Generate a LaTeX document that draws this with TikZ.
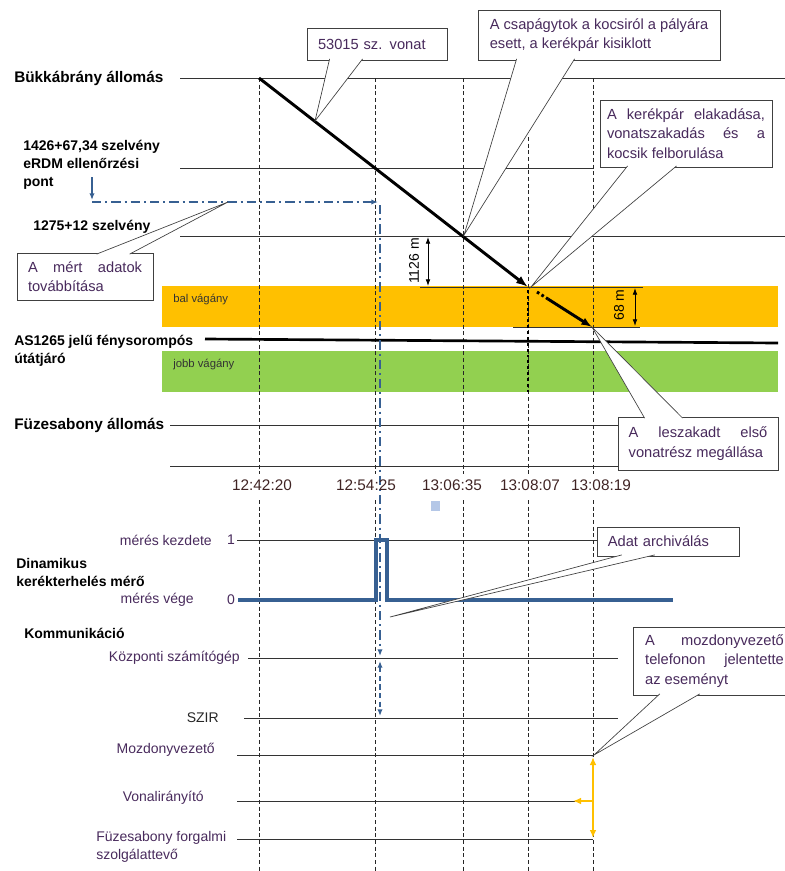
\documentclass[tikz,border=0pt]{standalone}
\usepackage{fontspec}
\setmainfont{Liberation Sans}
\usetikzlibrary{arrows.meta,calc}
\definecolor{bandorange}{RGB}{255,192,0}
\definecolor{bandgreen}{RGB}{146,208,80}
\definecolor{sigblue}{RGB}{55,96,146}
\definecolor{txtcol}{RGB}{72,42,92}
\definecolor{timecol}{RGB}{64,36,36}
\definecolor{marker}{RGB}{180,199,231}

\begin{document}
\begin{tikzpicture}[
    x=0.75pt, y=-0.75pt,
    >=Latex,
    every node/.style={inner sep=0pt, font=\fontsize{10.5}{13.5}\selectfont},
    station/.style={anchor=west, font=\bfseries\fontsize{11.5}{14}\selectfont},
    sublabel/.style={anchor=west, align=left, font=\bfseries\fontsize{10.5}{13.5}\selectfont},
    chlabel/.style={anchor=east, text=txtcol},
    timelabel/.style={text=timecol, font=\fontsize{11.5}{14}\selectfont},
    tracklabel/.style={anchor=west, text=black!80, font=\fontsize{8.5}{10}\selectfont},
    gridline/.style={black!80, line width=0.6pt},
    timemark/.style={black!85, line width=0.6pt, dash pattern=on 3pt off 2pt},
    train/.style={line width=2.2pt},
    dimline/.style={{Latex[length=5pt,width=3.5pt]}-{Latex[length=5pt,width=3.5pt]}, line width=0.6pt},
    datapath/.style={sigblue, line width=1.5pt, dash pattern=on 7pt off 3pt on 1.5pt off 3pt},
    report/.style={bandorange, line width=2pt},
    callbox/.style={draw=black!75, fill=white, line width=0.6pt, text=txtcol, font=\fontsize{11}{14.5}\selectfont},
    pointer/.style={draw=black!75, fill=white, line width=0.5pt}
  ]
  \useasboundingbox (0,0) rectangle (785,871);

  % tracks
  \fill[bandorange] (162,286) rectangle (778,327);
  \fill[bandgreen] (162,351) rectangle (778,392);

  % distance levels
  \draw[gridline] (180,78) -- (785,78);
  \draw[gridline] (180,168) -- (593,168);
  \draw[gridline] (180,236) -- (785,236);
  \draw[gridline] (420,287) -- (643,287);
  \draw[gridline] (513,327) -- (640,327);
  \draw[gridline] (170,425) -- (778,425);
  \draw[gridline] (170,466) -- (778,466);

  % signal levels
  \draw[gridline] (237,540) -- (597,540);
  \draw[gridline] (248,658) -- (618,658);
  \draw[gridline] (244,718) -- (618,718);
  \draw[gridline] (237,755) -- (593,755);
  \draw[gridline] (237,801) -- (575,801);
  \draw[gridline] (237,839) -- (593,839);

  % time marks
  \foreach \tx/\ys in {259/78, 375/78, 463/78, 528/137, 593/78} {
    \draw[timemark] (\tx,\ys) -- (\tx,474);
    \draw[timemark] (\tx,500) -- (\tx,871);
  }

  % level crossing
  \draw[line width=2pt] (205,339) -- (778,343);

  % distances
  \draw[dimline] (428,237) -- (428,286);
  \node[rotate=90] (dist1126) at (414,261) {1126 m};
  \draw[dimline] (635,288) -- (635,326);
  \node[rotate=90] (dist68) at (619,305) {68 m};

  % train path
  \coordinate (startB) at (259,78);
  \coordinate (derail) at (528,287);
  \coordinate (stopA) at (592,327);
  \draw[train, -{Latex[length=9pt,width=6.5pt]}] (startB) -- (derail);
  \draw[train, dash pattern=on 2pt off 2pt] (537,292) -- (548,299);
  \draw[train, -{Latex[length=8pt,width=6pt]}] (548,299) -- (stopA);
  \draw[line width=2.2pt, dash pattern=on 2.2pt off 2.2pt] (528,290) -- (528,392);

  % measured data
  \draw[sigblue, line width=1.2pt, -{Latex[length=5pt,width=4pt]}] (92,177) -- (92,200);
  \draw[datapath, -{Latex[length=5pt,width=4pt]}] (92,202) -- (378,202);
  \draw[datapath, -{Latex[length=5pt,width=4pt]}] (380,205) -- (380,656);
  \draw[sigblue, line width=1.5pt, dash pattern=on 4pt off 2.5pt,
        {Latex[length=5pt,width=4pt]}-{Latex[length=5pt,width=4pt]}] (380,661) -- (380,716);
  \draw[sigblue, line width=2.6pt] (238,600) -- (376,600) -- (376,540) -- (387,540) -- (387,600) -- (673,600);

  % phone report
  \draw[report, {Latex[length=6pt,width=5pt]}-{Latex[length=6pt,width=5pt]}] (593,757) -- (593,838);
  \draw[report, -{Latex[length=6pt,width=5pt]}] (593,801) -- (573,801);

  \fill[marker] (431,501) rectangle (440,511);

  % callouts
  \coordinate (tipvonat) at (315,121);
  \coordinate (tipkisiklas) at (464,235);
  \coordinate (tipelakadas) at (531,287);
  \coordinate (tipadat) at (228,202);
  \coordinate (tipmegallas) at (592,327);
  \coordinate (tiparchiv) at (390,617);
  \coordinate (tiptelefon) at (594,755);

  \node[callbox, minimum width=105pt, minimum height=24pt, text width=88.5pt, align=left] (vonat) at (377,44) {53015 sz. vonat};
  \filldraw[pointer] ($(vonat.south west)+(23,-1.5)$) -- (tipvonat) -- ($(vonat.south west)+(56,-1.5)$);

  \node[callbox, minimum width=181.5pt, minimum height=37.5pt, align=left] (kisiklas) at (599,35)
    {A csapágytok a kocsiról a pályára\\esett, a kerékpár kisiklott};
  \filldraw[pointer] ($(kisiklas.south west)+(39,-1.5)$) -- (tipkisiklas) -- ($(kisiklas.south west)+(97,-1.5)$);

  \node[callbox, minimum width=129pt, minimum height=50.25pt, text width=118.5pt, align=justify] (elakadas) at (686,133.5)
    {A kerékpár elakadása,\linebreak vonatszakadás és a\linebreak kocsik felborulása};
  \filldraw[pointer] ($(elakadas.south west)+(28,-1.5)$) -- (tipelakadas) -- ($(elakadas.south west)+(77,-1.5)$);

  \node[callbox, minimum width=102pt, minimum height=35.25pt, text width=85.5pt, align=justify] (adat) at (85,276.5)
    {A mért adatok\linebreak továbbítása};
  \filldraw[pointer] ($(adat.north west)+(80,1.5)$) -- (tipadat) -- ($(adat.north west)+(113,1.5)$);

  \node[callbox, minimum width=120pt, minimum height=39.75pt, text width=104pt, align=justify] (megallas) at (698,443.5)
    {A leszakadt első\linebreak vonatrész megállása};
  \filldraw[pointer] ($(megallas.north west)+(27,1.5)$) -- (tipmegallas) -- ($(megallas.north west)+(65,1.5)$);

  \node[callbox, minimum width=107pt, minimum height=21.75pt, text width=91pt, align=left] (archiv) at (668.5,541.5) {Adat archiválás};
  \filldraw[pointer] ($(archiv.south west)+(25,-1.5)$) -- (tiparchiv) -- ($(archiv.south west)+(58,-1.5)$);

  \node[callbox, minimum width=122pt, minimum height=51pt, text width=104pt, align=justify] (telefon) at (714.5,661)
    {A mozdonyvezető\linebreak telefonon jelentette\linebreak az eseményt};
  \filldraw[pointer] ($(telefon.south west)+(27,-1.5)$) -- (tiptelefon) -- ($(telefon.south west)+(67,-1.5)$);

  % left labels
  \node[station] (bukk) at (14,78) {Bükkábrány állomás};
  \node[sublabel] (erdm) at (23,165) {1426+67,34 szelvény\\eRDM ellenőrzési\\pont};
  \node[sublabel] (szelv) at (33,227) {1275+12 szelvény};
  \node[sublabel] (as1265) at (14,351) {AS1265 jelű fénysorompós\\útátjáró};
  \node[station] (fuzes) at (14,425) {Füzesabony állomás};
  \node[sublabel] (dinam) at (16,572) {Dinamikus\\kerékterhelés mérő};
  \node[sublabel] (komm) at (24,633) {Kommunikáció};

  \node[tracklabel] (bal) at (173,299) {bal vágány};
  \node[tracklabel] (jobb) at (173,364) {jobb vágány};

  % channel labels
  \node[chlabel] (kezdete) at (212,540) {mérés kezdete};
  \node[text=txtcol] (one) at (231,540) {1};
  \node[chlabel] (vege) at (194,600) {mérés vége};
  \node[text=txtcol] (zero) at (231,600) {0};
  \node[chlabel] (kozp) at (240,658) {Központi számítógép};
  \node[chlabel, text=black!85] (szir) at (219,718) {SZIR};
  \node[chlabel] (mozd) at (215,750) {Mozdonyvezető};
  \node[chlabel] (vonal) at (204,798) {Vonalirányító};
  \node[anchor=west, align=left, text=txtcol] (forg) at (96,846.5) {Füzesabony forgalmi\\szolgálattevő};

  % times
  \foreach \tx/\tt [count=\i] in {262/12:42:20, 366/12:54:25, 452/13:06:35, 530/13:08:07, 601/13:08:19}
    \node[timelabel] (time\i) at (\tx,485) {\tt};
\end{tikzpicture}
\end{document}
